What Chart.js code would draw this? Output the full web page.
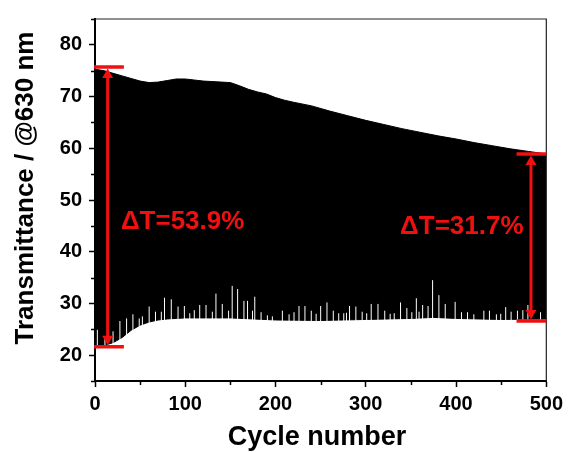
<!DOCTYPE html>
<html>
<head>
<meta charset="utf-8">
<script src="https://cdn.jsdelivr.net/npm/chart.js@4.4.1/dist/chart.umd.min.js"></script>
<style>
html, body { margin: 0; padding: 0; background: #fff; }
</style>
</head>
<body>
<canvas id="myChart" width="568" height="452"></canvas>
<script>
// upper envelope of the cycling trace (bleached state)
const upperCycles = [0, 10, 20, 30, 40, 50, 60, 70, 80, 90, 100, 110, 120, 140, 150, 160, 170, 180, 190, 200, 210, 220, 240, 260, 280, 300, 320, 340, 360, 380, 400, 420, 440, 460, 480, 500];
const upperValues = [75.3, 75.0, 74.5, 74.0, 73.5, 73.0, 72.7, 72.8, 73.1, 73.4, 73.4, 73.2, 73.0, 72.8, 72.7, 72.1, 71.4, 70.9, 70.5, 69.8, 69.3, 68.9, 68.2, 67.2, 66.3, 65.4, 64.6, 63.8, 63.1, 62.4, 61.8, 61.1, 60.5, 59.9, 59.4, 58.9];

// lower envelope (colored state)
const lowerCycles = [0, 10, 20, 30, 40, 50, 60, 70, 80, 90, 100, 150, 200, 250, 300, 350, 375, 400, 450, 500];
const lowerValues = [21.8, 21.9, 22.4, 23.4, 24.8, 25.8, 26.4, 26.8, 27.0, 27.1, 27.2, 27.2, 26.8, 26.7, 26.9, 27.1, 27.3, 27.1, 26.9, 27.0];

// white spikes rising from the lower envelope
const spikeCycles = [2.6, 11, 20, 27.6, 35, 42, 49, 52.5, 60, 67, 73.5, 77, 84.5, 92, 99, 105, 110, 116, 123, 130, 134, 141, 148, 152, 158, 165, 169, 174.5, 177, 184, 191, 196.5,
  207.6, 215, 220.5, 226, 232.6, 239.6, 245, 250, 257, 264, 270, 275.6, 278.6, 282, 289, 296, 301, 306, 313.5, 321, 327, 331.5, 338.5, 345.5, 351, 356, 359, 363, 369, 374, 381, 388, 399, 406, 412.7, 419.7, 430.8, 437, 444.7, 449.5, 455, 461, 468, 474, 479.6, 493.6];
const spikeTops = [24.9, 23.6, 24.6, 26.6, 27.1, 27.9, 27.1, 27.5, 29.4, 28.4, 28.4, 31.1, 30.8, 29.4, 29.5, 28.1, 28.7, 29.7, 29.7, 28.4, 31.9, 29.9, 28.6, 33.4, 32.8, 30.5, 30.5, 28.6, 31.3, 28.3, 27.7, 27.5,
  28.6, 27.9, 28.3, 29.5, 29.5, 28.6, 28.0, 29.5, 30.2, 28.6, 28.1, 28.1, 28.2, 29.5, 29.4, 28.4, 28.1, 29.9, 29.9, 28.6, 28.0, 28.1, 30.2, 29.1, 28.3, 31.0, 28.4, 29.7, 29.5, 34.5, 31.6, 29.9, 30.3, 28.3, 28.3, 27.9, 28.6, 28.6, 27.9, 28.0, 29.3, 28.4, 28.6, 28.7, 29.7, 28.3];

// modulation markers
const arrowCycles = [14, 483];
const arrowTops = [75.7, 58.9];
const arrowBottoms = [21.6, 26.6];
const deltaLabels = ['ΔT=53.9%', 'ΔT=31.7%'];

const xTicks = [0, 100, 200, 300, 400, 500];
const yTicks = [20, 30, 40, 50, 60, 70, 80];

const FONT = '"Liberation Sans", Arial, sans-serif';
const RED = '#f01010';
// cap extents and label anchors, in data units
const CAP_SPANS = [[-1, 32], [467, 500]];
const LABEL_ANCHORS = [[28.7, 44.3], [338, 43.4]];

function toXY(xs, ys) {
    return xs.map((c, i) => ({ x: c, y: ys[i] }));
}

const spikeData = [];
spikeCycles.forEach((c, i) => {
    spikeData.push({ x: c, y: 20 }, { x: c, y: spikeTops[i] }, { x: c, y: null });
});

const decorations = {
    id: 'decorations',
    afterDraw(chart) {
        const ctx = chart.ctx;
        const a = chart.chartArea;
        const x = chart.scales.x;
        const y = chart.scales.y;
        ctx.save();

        // frame top / right
        ctx.strokeStyle = '#222';
        ctx.lineWidth = 1.2;
        ctx.beginPath();
        ctx.moveTo(a.left, a.top);
        ctx.lineTo(a.right, a.top);
        ctx.lineTo(a.right, a.bottom);
        ctx.stroke();

        // minor ticks
        ctx.strokeStyle = '#000';
        ctx.lineWidth = 1.5;
        ctx.beginPath();
        for (let v = 50; v < 500; v += 100) {
            const px = Math.round(x.getPixelForValue(v)) + 0.5;
            ctx.moveTo(px, a.bottom);
            ctx.lineTo(px, a.bottom + 4);
        }
        for (let v = 15; v <= 85; v += 10) {
            const py = Math.round(y.getPixelForValue(v)) + 0.5;
            ctx.moveTo(a.left, py);
            ctx.lineTo(a.left - 4, py);
        }
        ctx.stroke();

        // red double arrows with caps
        ctx.strokeStyle = RED;
        ctx.fillStyle = RED;
        arrowCycles.forEach((c, i) => {
            const px = x.getPixelForValue(c);
            const pt = y.getPixelForValue(arrowTops[i]);
            const pb = y.getPixelForValue(arrowBottoms[i]);
            const x0 = x.getPixelForValue(CAP_SPANS[i][0]);
            const x1 = x.getPixelForValue(CAP_SPANS[i][1]);
            ctx.lineWidth = 3.5;
            ctx.beginPath();
            ctx.moveTo(x0, pt); ctx.lineTo(x1, pt);
            ctx.moveTo(x0, pb); ctx.lineTo(x1, pb);
            ctx.stroke();
            ctx.lineWidth = 3;
            ctx.beginPath();
            ctx.moveTo(px, pt + 6); ctx.lineTo(px, pb - 6);
            ctx.stroke();
            ctx.beginPath();
            ctx.moveTo(px, pt + 1.5); ctx.lineTo(px - 5.5, pt + 11); ctx.lineTo(px + 5.5, pt + 11);
            ctx.closePath();
            ctx.moveTo(px, pb - 1.5); ctx.lineTo(px - 5.5, pb - 11); ctx.lineTo(px + 5.5, pb - 11);
            ctx.closePath();
            ctx.fill();
        });

        ctx.font = 'bold 26px ' + FONT;
        ctx.textAlign = 'left';
        ctx.textBaseline = 'alphabetic';
        deltaLabels.forEach((t, i) => {
            ctx.fillText(t, x.getPixelForValue(LABEL_ANCHORS[i][0]), y.getPixelForValue(LABEL_ANCHORS[i][1]));
        });

        // axis titles
        ctx.fillStyle = '#000';
        ctx.textAlign = 'center';
        ctx.font = 'bold 27px ' + FONT;
        ctx.fillText('Cycle number', 317, 445);
        ctx.font = 'bold 26px ' + FONT;
        ctx.translate(33, 188);
        ctx.rotate(-Math.PI / 2);
        ctx.fillText('Transmittance / @630 nm', 0, 0);
        ctx.restore();
    }
};

const ctx = document.getElementById('myChart').getContext('2d');
const myChart = new Chart(ctx, {
    type: 'line',
    data: {
        datasets: [{
            data: spikeData,
            borderColor: '#ffffff',
            borderWidth: 1,
            pointRadius: 0,
            spanGaps: false,
            fill: false,
            order: 0
        }, {
            data: toXY(upperCycles, upperValues),
            borderColor: '#000',
            borderWidth: 1,
            backgroundColor: '#000',
            pointRadius: 0,
            fill: '+1',
            order: 1
        }, {
            data: toXY(lowerCycles, lowerValues),
            borderColor: '#000',
            borderWidth: 1,
            pointRadius: 0,
            fill: false,
            order: 2
        }]
    },
    options: {
        responsive: false,
        animation: false,
        layout: { padding: { top: 16, right: 20, left: 0, bottom: 0 } },
        plugins: {
            legend: { display: false },
            tooltip: { enabled: false }
        },
        scales: {
            x: {
                type: 'linear',
                min: 0,
                max: 500,
                afterBuildTicks: s => { s.ticks = xTicks.map(v => ({ value: v })); },
                afterFit: s => { s.height = 71; },
                grid: { drawOnChartArea: false, drawTicks: true, tickLength: 6, tickWidth: 1.5, tickColor: '#000' },
                border: { display: true, color: '#000', width: 2 },
                ticks: { color: '#000', autoSkip: false, maxRotation: 0, padding: 5, font: { family: FONT, size: 20, weight: 'bold' } }
            },
            y: {
                type: 'linear',
                min: 15,
                max: 85,
                afterBuildTicks: s => { s.ticks = yTicks.map(v => ({ value: v })); },
                afterFit: s => { s.width = 95; },
                grid: { drawOnChartArea: false, drawTicks: true, tickLength: 6, tickWidth: 1.5, tickColor: '#000' },
                border: { display: true, color: '#000', width: 2 },
                ticks: { color: '#000', autoSkip: false, padding: 7, font: { family: FONT, size: 20, weight: 'bold' } }
            }
        }
    },
    plugins: [decorations]
});
</script>
</body>
</html>
